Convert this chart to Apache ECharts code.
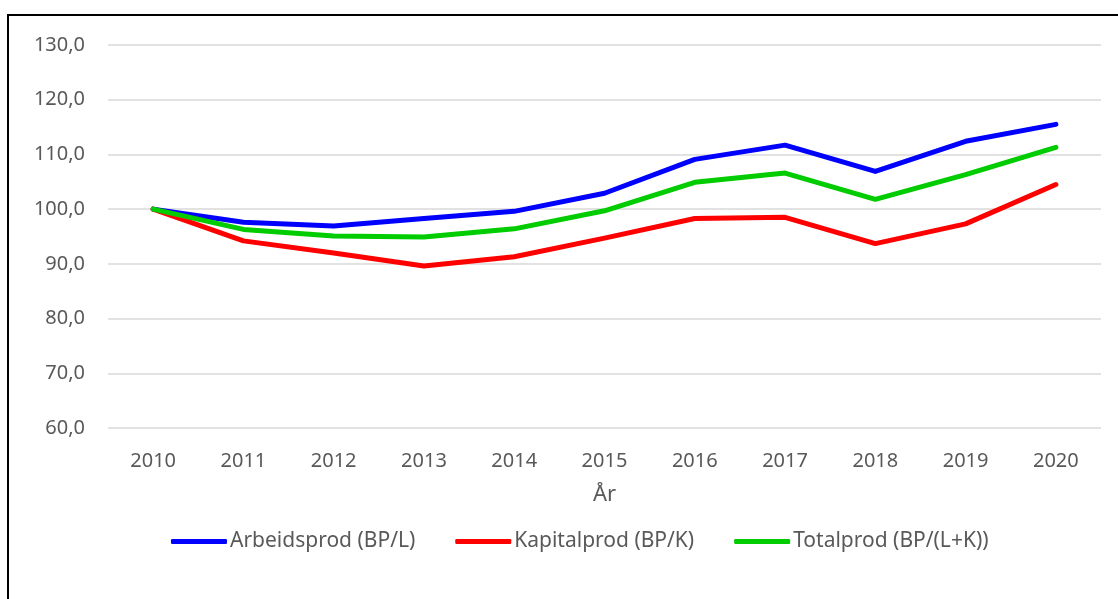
<!DOCTYPE html>
<html>
<head>
<meta charset="utf-8">
<script src="https://cdn.jsdelivr.net/npm/echarts@6/dist/echarts.min.js"></script>
<style>
  html, body { margin: 0; padding: 0; background: #fff; }
  #chart { width: 1118px; height: 599px; }
  #frame {
    position: absolute; left: 7px; top: 14px; width: 1200px; height: 700px;
    border-left: 2px solid #000; border-top: 2px solid #000; pointer-events: none;
  }
</style>
</head>
<body>
<div id="chart"></div>
<div id="frame"></div>
<script>
// år og indekser (2010 = 100)
const years = ['2010', '2011', '2012', '2013', '2014', '2015', '2016', '2017', '2018', '2019', '2020']
const arbeidsprod = [100.0, 97.6, 96.9, 98.3, 99.6, 102.9, 109.1, 111.7, 106.9, 112.4, 115.5]
const kapitalprod = [100.0, 94.2, 92.0, 89.6, 91.3, 94.7, 98.3, 98.5, 93.7, 97.3, 104.5]
const totalprod = [100.0, 96.3, 95.1, 94.9, 96.4, 99.7, 104.9, 106.6, 101.8, 106.3, 111.3]

const font = 'Noto Sans'
const grey = '#595959'

const chart = echarts.init(document.getElementById('chart'))

function line(name, data, color) {
  return {
    name,
    type: 'line',
    data,
    symbol: 'none',
    lineStyle: { width: 5, color, cap: 'round', join: 'round' },
    itemStyle: { color },
    emphasis: { disabled: true }
  }
}

chart.setOption({
  animation: false,
  grid: { left: 108, right: 17, top: 45, bottom: 171 },
  legend: {
    bottom: 42,
    left: 166,
    itemWidth: 56,
    itemHeight: 5,
    itemGap: 40,
    icon: 'roundRect',
    textStyle: { color: grey, fontFamily: font, fontSize: 21, padding: [0, 0, 0, -2] },
    data: ['Arbeidsprod (BP/L)', 'Kapitalprod (BP/K)', 'Totalprod (BP/(L+K))']
  },
  xAxis: {
    type: 'category',
    data: years,
    name: 'År',
    nameLocation: 'middle',
    nameGap: 56,
    nameTextStyle: { color: grey, fontFamily: font, fontSize: 22 },
    axisLine: { show: false },
    axisTick: { show: false },
    axisLabel: { color: grey, fontFamily: font, fontSize: 20, margin: 23 }
  },
  yAxis: {
    type: 'value',
    min: 60,
    max: 130,
    interval: 10,
    axisLabel: {
      color: grey, fontFamily: font, fontSize: 20, margin: 23,
      formatter: v => v.toFixed(1).replace('.', ',')
    },
    splitLine: { lineStyle: { color: '#d9d9d9', width: 1.5 } }
  },
  series: [
    line('Arbeidsprod (BP/L)', arbeidsprod, '#0000ff'),
    line('Kapitalprod (BP/K)', kapitalprod, '#ff0000'),
    line('Totalprod (BP/(L+K))', totalprod, '#00cc00')
  ]
})

window.addEventListener('resize', chart.resize)
</script>
</body>
</html>
